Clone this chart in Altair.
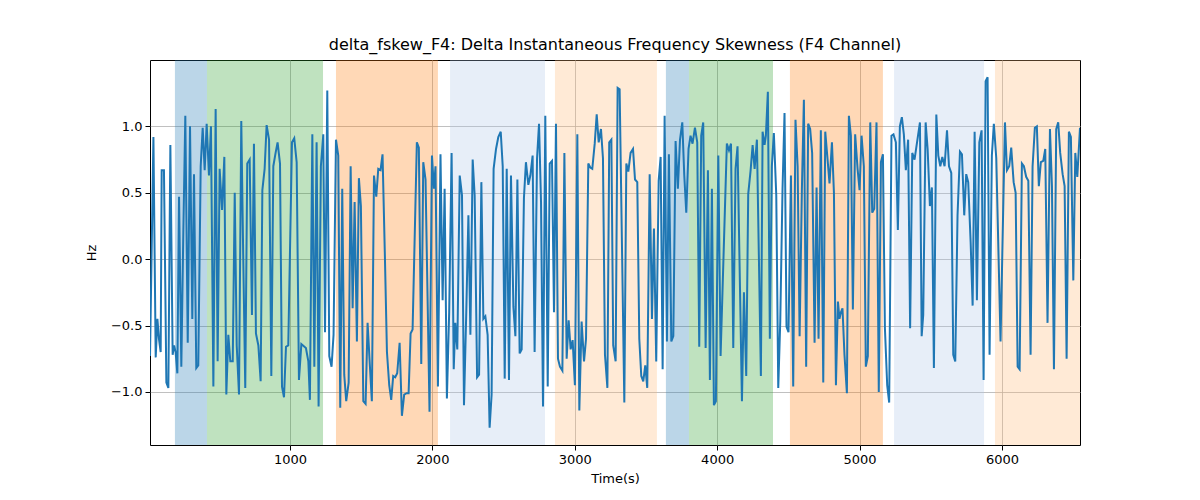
import altair as alt
import pandas as pd

# time (s) / value (Hz) pairs in six chunks
t_1 = [17, 41, 57, 69, 80, 92, 99, 115, 132, 146,
       160, 176, 186, 197, 209, 221, 237, 251, 265, 282,
       298, 314, 326, 342, 356, 373, 387, 401, 415, 431,
       445, 462, 478, 492, 506, 523, 539, 553, 567, 581,
       598, 612, 626, 642, 658, 672, 686, 700, 717, 733,
       747, 761, 778, 794, 806, 822, 836, 853, 869, 883,
       899, 913, 930, 944, 958, 972, 988, 1014, 1030, 1047,
       1063, 1080]
v_1 = [-0.73, 0.92, -0.74, -0.45, -0.6, -0.7, 0.67, 0.67, -0.93, -0.97,
       0.86, -0.72, -0.65, -0.7, -0.86, 0.47, -0.81, 0.2, 1.08, -0.63,
       1.0, -0.45, 0.64, -0.82, -0.8, 0.7, 0.99, 0.67, 1.02, 0.63,
       1.0, -0.96, 1.13, -0.77, 0.68, 0.37, 0.77, -1.02, -0.57, -0.77,
       -0.77, 0.5, -0.65, -1.02, 1.04, 0.0, -0.97, 0.72, 0.75, -0.42,
       0.87, -0.56, -0.65, -0.92, 0.52, 0.68, 1.01, 0.9, -0.88, 0.7,
       0.8, 0.88, 0.72, -0.96, -1.04, -0.66, -0.65, 0.88, 0.91, 0.73,
       -0.91, -0.64]

t_2 = [1112, 1129, 1140, 1157, 1171, 1187, 1201, 1217, 1234, 1246,
       1262, 1276, 1292, 1306, 1323, 1339, 1353, 1367, 1381, 1395,
       1412, 1426, 1440, 1454, 1470, 1484, 1498, 1515, 1531, 1545,
       1561, 1575, 1590, 1606, 1620, 1636, 1650, 1666, 1681, 1697,
       1711, 1725, 1739, 1753, 1770, 1786, 1802, 1819, 1833, 1847,
       1861, 1891, 1905, 1922, 1936, 1952, 1980, 1997, 2011, 2022,
       2039, 2057, 2072, 2086, 2102, 2118]
v_2 = [-0.67, -0.77, -1.06, 0.94, -0.81, 0.88, -1.11, 0.7, 0.94, -0.55,
       1.27, -0.73, -0.81, -0.57, 0.9, 0.78, -1.12, 0.53, -0.87, -1.07,
       -0.93, 0.7, -0.37, 0.43, -0.62, 0.61, 0.4, -1.07, -1.09, -0.48,
       -0.8, -1.07, 0.63, 0.47, 0.68, 0.67, 0.79, 0.05, -0.7, -0.95,
       -1.06, -0.88, -0.89, -0.86, -0.63, -1.18, -1.02, -1.01, -1.01, -0.56,
       -0.53, 0.88, 0.84, -0.79, 0.73, 0.6, -1.15, 0.78, 0.53, 0.7,
       -0.96, 0.79, -0.31, 0.53, -1.05, -0.4]

t_3 = [2135, 2150, 2161, 2175, 2192, 2208, 2222, 2238, 2253, 2267,
       2283, 2297, 2314, 2328, 2344, 2358, 2372, 2388, 2402, 2416,
       2430, 2447, 2463, 2480, 2494, 2508, 2522, 2538, 2552, 2569,
       2583, 2597, 2613, 2627, 2643, 2657, 2674, 2688, 2704, 2718,
       2735, 2749, 2763, 2777, 2793, 2810, 2824, 2840, 2854, 2868,
       2882, 2896, 2913, 2927, 2943, 2957, 2971, 2985, 3001, 3018,
       3032, 3048, 3065, 3079, 3095, 3109, 3123, 3140, 3154, 3168,
       3184, 3198, 3212, 3229, 3242, 3257]
v_3 = [0.8, -0.83, -0.48, -0.68, 0.63, 0.48, -1.1, -0.4, 0.33, -0.57,
       0.75, 0.48, -0.89, -0.87, 0.58, -0.45, -0.43, -0.57, -1.27, -1.02,
       0.68, 0.83, 0.92, 0.96, 0.7, -0.9, 0.68, -0.91, 0.63, -0.36,
       -0.58, 0.6, -0.71, -0.68, 0.46, 0.73, 0.56, 0.63, 0.78, -0.7,
       0.76, 1.02, 0.43, -1.11, 1.08, -0.96, 0.72, 0.74, -0.4, 1.02,
       -0.75, -0.81, -0.84, 0.8, -0.75, -0.46, -0.68, -0.61, -0.95, 0.94,
       -1.14, -0.47, -0.77, -0.6, 0.72, 0.69, 0.68, 0.87, 1.09, 0.88,
       0.98, 0.76, -0.72, -0.97, 0.88, 0.9]

t_4 = [3270, 3287, 3301, 3315, 3348, 3362, 3376, 3392, 3409,
       3423, 3439, 3453, 3467, 3481, 3495, 3509, 3526, 3542, 3556,
       3572, 3589, 3603, 3617, 3631, 3647, 3661, 3678, 3692, 3708,
       3724, 3739, 3755, 3769, 3783, 3799, 3813, 3827, 3844, 3860,
       3874, 3888, 3902, 3919, 3935, 3949, 3963, 3977, 3991, 4008,
       4024, 4068, 4083, 4097, 4113, 4129, 4143,
       4174, 4188, 4204, 4218, 4235, 4249, 4263, 4279]
v_4 = [-0.65, -0.77, 1.29, 1.28, -1.08, 0.72, 0.66, 0.8, 0.83,
       0.6, 0.58, -0.6, -0.88, -0.92, -0.8, -0.97, 0.64, -0.45, 0.23,
       -0.77, 0.59, 0.77, -0.83, 1.08, -0.62, 0.79, -0.62, -0.58, 0.89,
       0.53, 0.9, 1.03, 0.63, 0.35, 0.83, 0.93, 0.87, 0.99, 0.88,
       -0.66, 0.93, 1.03, -0.67, 0.67, -0.91, 0.53, -1.1, -1.07, 0.78,
       -0.73, 0.87, 0.82, 0.87, -0.67, 0.68, 0.85,
       -1.07, -0.25, -0.88, 0.49, 0.67, 0.86, 0.68, 0.9]

t_5 = [4307, 4319, 4333, 4342, 4356, 4370, 4384, 4398, 4415,
       4429, 4443, 4459, 4473, 4487, 4501, 4518, 4534, 4550, 4565,
       4579, 4595, 4609, 4625, 4639, 4653, 4667, 4684, 4698, 4712,
       4728, 4745, 4759, 4773, 4789, 4806, 4820, 4834, 4848, 4859,
       4869, 4880, 4894, 4911, 4925, 4939, 4953, 4969, 4986, 5000,
       5014, 5030, 5044, 5058, 5075, 5089, 5103, 5119, 5135, 5150,
       5164, 5178, 5194, 5208, 5224, 5238, 5255, 5269, 5283, 5297,
       5311, 5325, 5341, 5355, 5370, 5386]
v_5 = [-0.88, 0.96, 0.86, 0.93, 1.26, -0.6, 0.7, 0.95, 0.48,
       -0.97, -0.47, 0.53, 1.1, -0.51, -0.55, 0.63, -0.96, 1.05, 0.7,
       -0.58, 0.53, 1.2, -0.81, 1.02, 0.98, 0.8, -0.63, 0.54, -0.6,
       0.97, -0.93, 0.96, 0.78, 0.57, 0.88, 0.5, -0.95, -0.32, -0.45,
       -0.4, -0.37, -0.72, -1.01, 1.08, 0.93, -0.38, 0.94, 0.68, 0.52,
       0.93, 0.7, -0.81, -0.73, 1.03, 0.35, 0.38, 1.03, -1.0, 0.73,
       0.79, -0.52, -0.95, -1.08, 0.93, 0.94, 0.88, 0.22, 1.0, 1.07,
       0.94, 0.67, 0.9, -0.52, 0.8, 0.75]

t_6 = [5424, 5436, 5447, 5464, 5478, 5494, 5508, 5522, 5539, 5553,
       5567, 5581, 5597, 5614, 5628, 5644, 5658, 5672, 5688, 5705,
       5719, 5735, 5749, 5763, 5780, 5794, 5808, 5824, 5841, 5857,
       5871, 5885, 5899, 5913, 5929, 5943, 5960, 5990,
       6021, 6035, 6051, 6065, 6082, 6096, 6110, 6124, 6140, 6154,
       6170, 6185, 6201, 6215, 6231, 6245, 6259, 6273, 6290, 6304,
       6320, 6337, 6351, 6365, 6381, 6395, 6409, 6426, 6440, 6454,
       6470, 6484, 6501, 6515, 6529, 6548]
v_6 = [1.03, -0.58, -0.42, 1.03, 0.83, 0.4, 0.54, -0.82, 1.09, 0.78,
       0.7, 0.77, 0.7, 0.97, 0.7, 0.65, -0.72, -0.77, 0.33, 0.81,
       0.79, 0.33, 0.64, 0.58, 0.13, -0.35, 0.96, -0.31, 0.88, 0.97,
       -0.91, 1.34, 1.37, -0.72, 0.78, 1.02, 0.76, -0.62,
       1.03, 0.67, 0.7, 0.84, 0.58, 0.5, -0.81, -0.83, 0.72, 0.7,
       0.62, 0.59, -0.72, 0.7, 0.99, 1.0, 0.55, 0.73, 0.74, 0.83,
       -0.48, 0.98, 0.55, -0.83, 0.98, 1.03, 0.8, 0.64, 0.55, -0.75,
       0.96, 0.92, -0.16, 0.8, 0.62, 0.99]

# shaded segments
span_start = [192, 417, 1323, 2124, 2861, 3640, 3802, 4511, 5242, 5951]
span_end = [417, 1232, 2039, 2791, 3577, 3802, 4392, 5164, 5874, 6548]
span_color = ["#1f77b4", "#2ca02c", "#ff7f0e", "#aec7e8", "#ffbb78",
              "#1f77b4", "#2ca02c", "#ff7f0e", "#aec7e8", "#ffbb78"]

x_ticks = [1000, 2000, 3000, 4000, 5000, 6000]
y_ticks = [-1.0, -0.5, 0.0, 0.5, 1.0]

times = t_1 + t_2 + t_3 + t_4 + t_5 + t_6
values = v_1 + v_2 + v_3 + v_4 + v_5 + v_6
line_df = pd.DataFrame({"t": times, "hz": values})
span_df = pd.DataFrame({"start": span_start, "end": span_end, "color": span_color})

x_scale = alt.Scale(domain=[17, 6548], nice=False, zero=False)
y_scale = alt.Scale(domain=[-1.40, 1.50], nice=False, zero=False)
x_axis = alt.Axis(values=x_ticks, format="d", titlePadding=6)
y_axis = alt.Axis(values=y_ticks, format=".1f", titlePadding=12)

spans = alt.Chart(span_df).mark_rect(opacity=0.3, clip=True).encode(
    x=alt.X("start:Q", scale=x_scale, axis=x_axis, title="Time(s)"),
    x2="end:Q",
    color=alt.Color("color:N", scale=None),
)

line = alt.Chart(line_df).mark_line(color="#1f77b4", strokeWidth=2, clip=True).encode(
    x=alt.X("t:Q", scale=x_scale, axis=x_axis, title="Time(s)"),
    y=alt.Y("hz:Q", scale=y_scale, axis=y_axis, title="Hz"),
)

chart = alt.layer(spans, line).properties(
    width=930,
    height=385,
    title="delta_fskew_F4: Delta Instantaneous Frequency Skewness (F4 Channel)",
    autosize=alt.AutoSizeParams(type="none"),
    padding={"left": 142, "top": 52, "right": 112, "bottom": 47},
    background="white",
).configure_title(
    font="DejaVu Sans",
    fontSize=16,
    fontWeight="normal",
    color="black",
    offset=7,
).configure_axis(
    labelFont="DejaVu Sans",
    labelFontSize=13,
    labelColor="black",
    titleFont="DejaVu Sans",
    titleFontSize=13,
    titleFontWeight="normal",
    titleColor="black",
    gridColor="#b0b0b0",
    gridWidth=0.8,
    tickColor="black",
    tickSize=5,
    labelPadding=3,
    domain=False,
).configure_view(
    stroke="black",
    strokeWidth=1,
)

chart.save("out.html", embed_options={"renderer": "svg", "actions": False})
